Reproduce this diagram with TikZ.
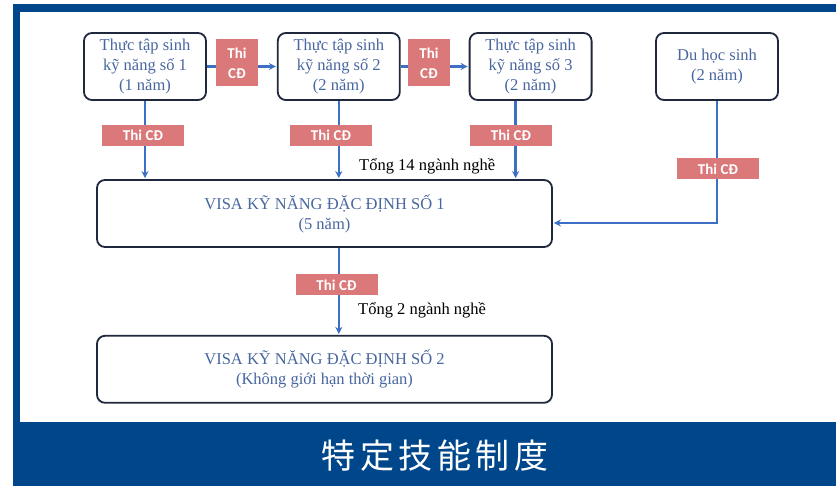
\documentclass[tikz,border=0pt]{standalone}
\usepackage{fontspec}
\setmainfont{Liberation Serif}
\newfontfamily\thifont{Carlito}
\newfontfamily\cjkfont[LetterSpace=13]{Noto Sans CJK JP}
\usetikzlibrary{positioning,calc,arrows.meta}
\definecolor{frameblue}{RGB}{0,70,138}
\definecolor{boxline}{RGB}{32,40,62}
\definecolor{boxtext}{RGB}{72,102,160}
\definecolor{arrowblue}{RGB}{60,112,196}
\definecolor{thired}{RGB}{218,120,122}

\begin{document}
\begin{tikzpicture}
  [x=1pt, y=-1pt,
      stage/.style={rectangle, rounded corners=8pt, draw=boxline, line width=1.8pt, fill=white, text=boxtext, align=center, font=\fontsize{16.5}{20}\selectfont, minimum width=122pt, minimum height=67pt, inner sep=0pt},
      visa/.style={stage, minimum width=455pt},
      thi/.style={rectangle, fill=thired, text=white, font=\thifont\bfseries\fontsize{15}{20}\selectfont, inner sep=0pt, minimum height=21pt, minimum width=82pt},
      thisq/.style={thi, minimum width=42pt, minimum height=47pt, align=center},
      flow/.style={-{Stealth[length=7pt,width=7pt]}, draw=arrowblue, line width=2.4pt, shorten >=1pt},
      note/.style={font=\fontsize{16.5}{20}\selectfont, inner sep=0pt, anchor=west},
    ]

    \fill[frameblue] (12.5,4) rectangle (836,486);
    \fill[white] (20,12) rectangle (836,422);
    \useasboundingbox (0,0) rectangle (836,486);

    \node (tts1) [stage] at (145,66.5) {Thực tập sinh\\kỹ năng số 1\\(1 năm)};
    \node (tts2) [stage, right=70pt of tts1] {Thực tập sinh\\kỹ năng số 2\\(2 năm)};
    \node (tts3) [stage, right=68pt of tts2] {Thực tập sinh\\kỹ năng số 3\\(2 năm)};
    \node (duhoc) [stage] at (717,66.5) {Du học sinh\\(2 năm)};
    \node (visa1) [visa] at (324.5,213.5) {VISA KỸ NĂNG ĐẶC ĐỊNH SỐ 1\\(5 năm)};
    \node (visa2) [visa, below=87pt of visa1] {VISA KỸ NĂNG ĐẶC ĐỊNH SỐ 2\\(Không giới hạn thời gian)};

    \coordinate (drop3) at ([xshift=-15pt]tts3.south);
    \coordinate (entry) at ([yshift=-9.5pt]visa1.east);
    \foreach \i/\j in {tts1/tts2,tts2/tts3}
      \draw [flow] (\i) -- (\j);
    \foreach \i in {tts1.south,tts2.south,drop3}
      \draw [flow] (\i) -- (\i |- visa1.north);
    \draw [flow] (duhoc.south) |- (entry);
    \draw [flow] (visa1.south -| tts2.south) -- (visa2.north -| tts2.south);

    \node (thi12) [thisq] at (237,63) {Thi\\CĐ};
    \node (thi23) [thisq] at (429,63) {Thi\\CĐ};
    \node (thi1) [thi] at (143,135.5) {Thi CĐ};
    \node (thi2) [thi] at (331,135.5) {Thi CĐ};
    \node (thi3) [thi] at (511,135.5) {Thi CĐ};
    \node (thi4) [thi] at (718,169) {Thi CĐ};
    \node (thi5) [thi] at (336.5,285) {Thi CĐ};

    \node (nganh14) [note] at (359,166) {Tổng 14 ngành nghề};
    \node (nganh2) [note] at (358,310) {Tổng 2 ngành nghề};

    \node (title) [text=white, font=\cjkfont\fontsize{34}{40}\selectfont, inner sep=0pt] at (435,456) {特定技能制度};
  \end{tikzpicture}
\end{document}
